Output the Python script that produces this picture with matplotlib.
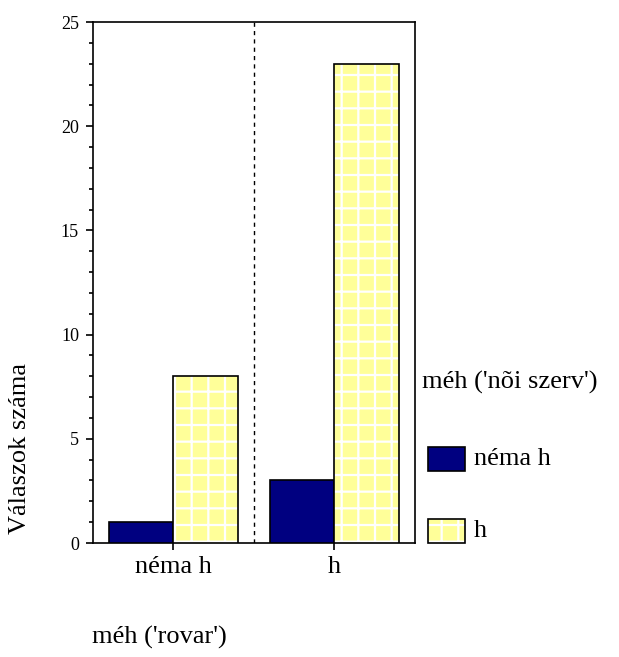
import numpy as np
import matplotlib
matplotlib.use("Agg")
from matplotlib import pyplot as plt
from matplotlib.patches import Rectangle
from matplotlib.ticker import MultipleLocator

# answer counts per category
categories = ["néma h", "h"]
series_names = ["néma h", "h"]
counts_nema = [1, 3]
counts_h = [8, 23]

navy = "#000080"
yellow = "#ffff99"

plt.rcParams["font.family"] = ["Liberation Serif", "DejaVu Serif"]
plt.rcParams["hatch.linewidth"] = 1.6

fig = plt.figure(figsize=(6.19, 6.57), dpi=100)
ax = fig.add_axes([0.150, 0.1735, 0.520, 0.793])

x = np.arange(len(categories))
w = 0.4
ax.bar(x - w / 2, counts_nema, width=w, color=navy, edgecolor="black", linewidth=1.2, zorder=3)
# white grid inside the yellow bars, then a black outline on top
ax.bar(x + w / 2, counts_h, width=w, color=yellow, edgecolor="white", hatch="+", linewidth=0, zorder=3)
ax.bar(x + w / 2, counts_h, width=w, fill=False, edgecolor="black", linewidth=1.2, zorder=4)

ax.axvline(0.5, color="black", linestyle=(0, (3, 3)), linewidth=1.0)

ax.set_xlim(-0.5, 1.5)
ax.set_ylim(0, 25)
ax.set_xticks(x)
ax.set_xticklabels(categories, fontsize=19)
ax.yaxis.set_major_locator(MultipleLocator(5))
ax.yaxis.set_minor_locator(MultipleLocator(1))
ax.tick_params(axis="y", which="major", direction="out", length=5, width=1.2, labelsize=13, pad=5)
ax.tick_params(axis="y", which="minor", direction="out", length=3, width=1.2)
ax.tick_params(axis="x", direction="out", length=5, width=1.2, pad=4)
for s in ax.spines.values():
    s.set_linewidth(1.2)

fig.text(0.032, 0.318, "Válaszok száma", rotation=90, ha="center", va="center", fontsize=19)
fig.text(0.149, 0.030, "méh ('rovar')", ha="left", va="center", fontsize=19)

# legend
fig.text(0.682, 0.4186, "méh ('nõi szerv')", ha="left", va="center", fontsize=19)
fig.patches.append(Rectangle((0.6914, 0.2831), 0.0598, 0.0365, transform=fig.transFigure,
                             facecolor=navy, edgecolor="black", linewidth=1.2))
fig.patches.append(Rectangle((0.6914, 0.1735), 0.0598, 0.0365, transform=fig.transFigure,
                             facecolor=yellow, edgecolor="white", hatch="+", linewidth=0))
fig.patches.append(Rectangle((0.6914, 0.1735), 0.0598, 0.0365, transform=fig.transFigure,
                             fill=False, edgecolor="black", linewidth=1.2))
fig.text(0.766, 0.3014, series_names[0], ha="left", va="center", fontsize=19)
fig.text(0.766, 0.1918, series_names[1], ha="left", va="center", fontsize=19)

fig.savefig("out.png", dpi=100)
